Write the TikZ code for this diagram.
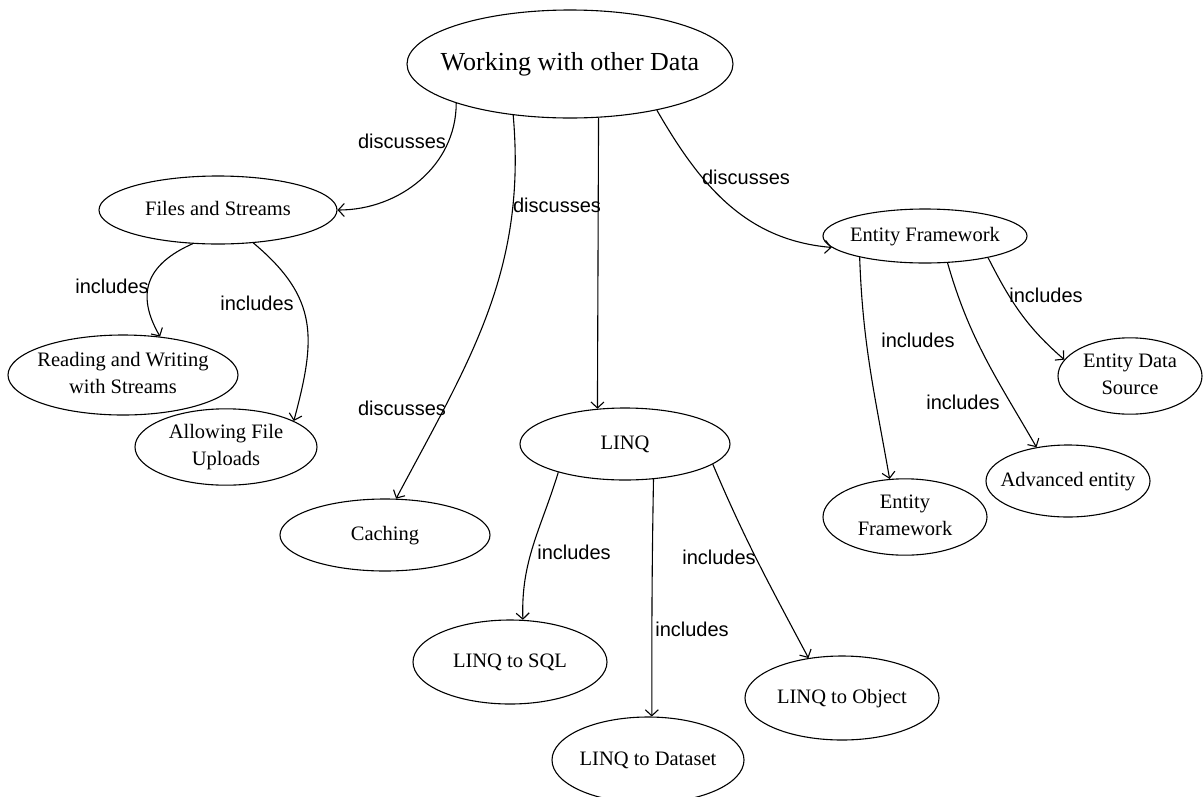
\documentclass[tikz,border=0pt]{standalone}
\usepackage{fontspec}
\setmainfont{Liberation Serif}
\newfontfamily\lblfont{Liberation Sans}
\usetikzlibrary{arrows.meta,shapes.geometric}
\newcommand{\zw}[1]{\makebox[0pt][c]{\begin{tabular}{@{}c@{}}#1\end{tabular}}}
\begin{document}
\begin{tikzpicture}[x=1pt,y=1pt,
  concept/.style={draw=black, ellipse, line width=1.1pt, inner sep=0pt, font=\fontsize{20.5}{27}\selectfont},
  rel/.style={draw=black, line width=1.1pt, -{Straight Barb[length=6pt,width=13pt]}},
  lbl/.style={font=\lblfont\fontsize{20}{24}\selectfont, inner sep=0pt}]
\fill[white] (0,0) rectangle (1203,-796);
\useasboundingbox (0,0) rectangle (1203,-796);

\node[concept, minimum width=326pt, minimum height=108pt, font=\fontsize{26}{30}\selectfont] (main) at (570,-64) {\zw{Working with other Data}};
\node[concept, minimum width=238pt, minimum height=68pt] (files) at (218,-210) {\zw{Files and Streams}};
\node[concept, minimum width=230pt, minimum height=80pt] (reading) at (123,-375) {\zw{Reading and Writing\\with Streams}};
\node[concept, minimum width=182pt, minimum height=62pt] (allowing) at (226,-447) {\zw{Allowing File\\Uploads}};
\node[concept, minimum width=210pt, minimum height=72pt] (caching) at (385,-535) {\zw{Caching}};
\node[concept, minimum width=210pt, minimum height=72pt] (linq) at (625,-444) {\zw{LINQ}};
\node[concept, minimum width=194pt, minimum height=84pt] (sql) at (510,-662) {\zw{LINQ to SQL}};
\node[concept, minimum width=192pt, minimum height=86pt] (dataset) at (648,-760) {\zw{LINQ to Dataset}};
\node[concept, minimum width=194pt, minimum height=84pt] (object) at (842,-698) {\zw{LINQ to Object}};
\node[concept, minimum width=204pt, minimum height=54pt] (entity) at (925,-236) {\zw{Entity Framework}};
\node[concept, minimum width=144pt, minimum height=64pt] (ds) at (1130,-376) {\zw{Entity Data\\Source}};
\node[concept, minimum width=164pt, minimum height=72pt] (adv) at (1068,-481) {\zw{Advanced entity}};
\node[concept, minimum width=164pt, minimum height=74pt] (efb) at (905,-517) {\zw{Entity\\Framework}};

\draw[rel] (main.199) to[out=-90,in=0] (files.east);
\draw[rel] (main.222) to[out=-85,in=62] (caching.73);
\draw[rel] (main.-62) -- (linq.128);
\draw[rel] (main.-28) to[out=-60,in=175] (entity.187);
\draw[rel] (files.233) to[out=204,in=120,looseness=1.3] (reading.46);
\draw[rel] (files.-43) to[out=-40,in=75,looseness=1.2] (allowing.21);
\draw[rel] (entity.198) to[out=-88,in=100] (efb.112);
\draw[rel] (entity.-50) to[out=-74,in=120] (adv.133);
\draw[rel] (entity.-19) to[out=-63,in=139] (ds.166);
\draw[rel] (linq.203) to[out=-107,in=92] (sql.73);
\draw[rel] (linq.-51) to[out=-91,in=90] (dataset.85);
\draw[rel] (linq.-13) to[out=-67,in=118] (object.130);

\node[lbl] (l1) at (402,-141) {discusses};
\node[lbl] (l2) at (557,-205) {discusses};
\node[lbl] (l3) at (402,-408) {discusses};
\node[lbl] (l4) at (746,-177) {discusses};
\node[lbl] (l5) at (112,-286) {includes};
\node[lbl] (l6) at (257,-303) {includes};
\node[lbl] (l7) at (918,-340) {includes};
\node[lbl] (l8) at (963,-402) {includes};
\node[lbl] (l9) at (1046,-295) {includes};
\node[lbl] (l10) at (574,-552) {includes};
\node[lbl] (l11) at (692,-629) {includes};
\node[lbl] (l12) at (719,-557) {includes};
\end{tikzpicture}
\end{document}
